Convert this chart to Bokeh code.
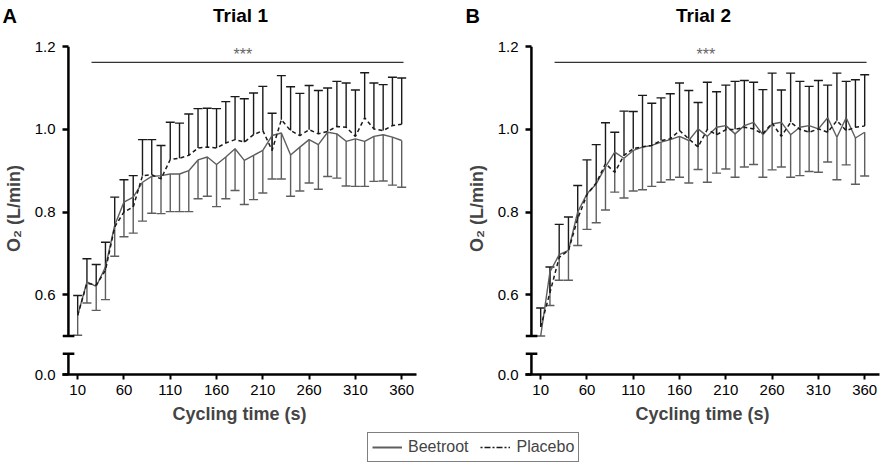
from bokeh.plotting import figure
from bokeh.models import (ColumnDataSource, FixedTicker, Whisker, TeeHead, Legend,
                          LegendItem, Range1d, NumeralTickFormatter)
from bokeh.layouts import column, row
from bokeh.embed import file_html
from bokeh.resources import INLINE
from bokeh.core.properties import value

# ---------------- data ----------------
time_s = [10, 20, 30, 40, 50, 60, 70, 80, 90, 100, 110, 120, 130, 140, 150, 160, 170, 180,
          190, 200, 210, 220, 230, 240, 250, 260, 270, 280, 290, 300, 310, 320, 330, 340, 350, 360]

# Trial 1
t1_beet_mean = [0.550, 0.631, 0.620, 0.667, 0.768, 0.824, 0.836, 0.872, 0.886, 0.888, 0.892, 0.892,
                0.900, 0.926, 0.933, 0.915, 0.933, 0.953, 0.925, 0.937, 0.949, 0.985, 0.991, 0.938,
                0.957, 0.975, 0.963, 0.993, 0.989, 0.971, 0.977, 0.971, 0.983, 0.987, 0.981, 0.973]
t1_beet_low = [0.502, 0.580, 0.562, 0.588, 0.693, 0.740, 0.749, 0.778, 0.797, 0.796, 0.801, 0.801,
               0.801, 0.832, 0.838, 0.813, 0.832, 0.852, 0.818, 0.830, 0.846, 0.880, 0.880, 0.838,
               0.851, 0.870, 0.855, 0.886, 0.882, 0.863, 0.862, 0.862, 0.874, 0.875, 0.865, 0.860]
t1_plac_mean = [0.550, 0.628, 0.623, 0.659, 0.764, 0.800, 0.812, 0.888, 0.890, 0.880, 0.927, 0.930,
                0.937, 0.955, 0.957, 0.955, 0.967, 0.975, 0.969, 0.987, 0.997, 0.949, 1.023, 0.997,
                0.985, 0.999, 0.989, 0.995, 1.007, 1.005, 0.983, 1.028, 1.001, 0.997, 1.009, 1.012]
t1_plac_up = [0.598, 0.687, 0.673, 0.727, 0.836, 0.878, 0.888, 0.975, 0.975, 0.961, 1.017, 1.015,
              1.037, 1.050, 1.051, 1.050, 1.067, 1.079, 1.074, 1.088, 1.104, 1.039, 1.130, 1.103,
              1.087, 1.106, 1.094, 1.100, 1.116, 1.112, 1.095, 1.137, 1.112, 1.108, 1.126, 1.124]

# Trial 2
t2_beet_mean = [0.500, 0.655, 0.697, 0.707, 0.800, 0.844, 0.868, 0.909, 0.945, 0.930, 0.949, 0.957,
                0.961, 0.969, 0.975, 0.983, 0.973, 1.001, 0.983, 1.005, 1.009, 0.989, 1.009, 1.017,
                0.987, 1.013, 1.017, 0.987, 1.005, 1.009, 1.001, 1.028, 0.981, 1.028, 0.979, 0.993]
t2_beet_low = [0.500, 0.574, 0.635, 0.635, 0.719, 0.758, 0.774, 0.805, 0.848, 0.834, 0.851, 0.854,
               0.862, 0.872, 0.878, 0.884, 0.870, 0.903, 0.872, 0.894, 0.904, 0.884, 0.909, 0.915,
               0.884, 0.902, 0.909, 0.884, 0.888, 0.898, 0.896, 0.921, 0.878, 0.914, 0.867, 0.887]
t2_plac_mean = [0.522, 0.605, 0.690, 0.707, 0.784, 0.842, 0.870, 0.917, 0.896, 0.937, 0.953, 0.958,
                0.961, 0.973, 0.977, 0.997, 0.977, 0.957, 1.000, 0.987, 0.999, 1.000, 1.005, 1.001,
                0.989, 1.015, 0.983, 1.017, 1.000, 0.993, 1.001, 0.993, 1.021, 0.997, 1.005, 1.008]
t2_plac_up = [0.568, 0.667, 0.770, 0.788, 0.864, 0.926, 0.963, 1.016, 0.993, 1.044, 1.043, 1.082,
              1.063, 1.076, 1.086, 1.112, 1.094, 1.065, 1.114, 1.091, 1.107, 1.116, 1.118, 1.114,
              1.096, 1.136, 1.095, 1.136, 1.116, 1.104, 1.118, 1.107, 1.136, 1.116, 1.120, 1.132]

x_ticks = [10, 60, 110, 160, 210, 260, 310, 360]
y_ticks = [0.6, 0.8, 1.0, 1.2]
zero_pos = 0.407          # where the "0.0" tick sits on the broken axis
break_low_top = 0.457     # top of the short axis stub above 0.0
break_high_bottom = 0.5   # bottom of the main axis segment
sig_start, sig_end, sig_level, sig_text = 25, 362, 1.162, "***"
series_names = ["Beetroot", "Placebo"]
panel_letters = ["A", "B"]
panel_titles = ["Trial 1", "Trial 2"]

FONT = "Liberation Sans"
GRAY = "#5e5e5e"
DARK = "#1a1a1a"
HEAD_H = 30
W_A, W_B = 463, 417

# ---------------- header (panel letters + titles) ----------------
head = figure(width=W_A + W_B, height=HEAD_H, x_range=Range1d(0, W_A + W_B),
              y_range=Range1d(0, HEAD_H), x_axis_type=None, y_axis_type=None,
              output_backend="svg", toolbar_location=None, min_border=0)
head.grid.visible = False
head.outline_line_color = None
head_y = [HEAD_H / 2, HEAD_H / 2]
head.text([2, W_A + 2], head_y, text=panel_letters, text_font=value(FONT),
          text_font_size="20px", text_font_style="bold", text_color="black",
          text_align="left", text_baseline="middle")
head.text([240, W_A + 240], head_y, text=panel_titles, text_font=value(FONT),
          text_font_size="19px", text_font_style="bold", text_color="black",
          text_align="center", text_baseline="middle")


def make_panel(bm, bl, pm, pu, width, right_border):
    p = figure(width=width, height=432 - HEAD_H, x_range=Range1d(-6.4, 376),
               y_range=Range1d(zero_pos, 1.21), output_backend="svg", toolbar_location=None,
               min_border_left=60, min_border_right=right_border, min_border_top=42 - HEAD_H,
               min_border_bottom=58)
    p.grid.visible = False
    p.outline_line_color = None

    # x axis
    xa = p.xaxis[0]
    xa.ticker = FixedTicker(ticks=x_ticks, minor_ticks=[])
    xa.axis_line_width = 2.5
    xa.axis_line_color = "black"
    xa.major_tick_line_width = 2
    xa.major_tick_out = 5
    xa.major_tick_in = 0
    xa.major_label_text_font = FONT
    xa.major_label_text_font_size = "15px"
    xa.major_label_text_color = "black"
    xa.major_label_standoff = 5
    xa.axis_label = "Cycling time (s)"
    xa.axis_label_text_font = FONT
    xa.axis_label_text_font_size = "18px"
    xa.axis_label_text_font_style = "bold"
    xa.axis_label_standoff = 6

    # y axis (line drawn separately for the break)
    ya = p.yaxis[0]
    ya.ticker = FixedTicker(ticks=[zero_pos] + y_ticks, minor_ticks=[])
    ya.formatter = NumeralTickFormatter(format="0.0")
    ya.major_label_overrides = {zero_pos: "0.0"}
    ya.axis_line_color = None
    ya.major_tick_line_width = 2.5
    ya.major_tick_in = 6
    ya.major_tick_out = 0
    ya.major_label_text_font = FONT
    ya.major_label_text_font_size = "15px"
    ya.major_label_text_color = "black"
    ya.major_label_standoff = 7
    ya.axis_label = "O\u2082 (L/min)"
    ya.axis_label_text_font = FONT
    ya.axis_label_text_font_size = "18px"
    ya.axis_label_text_font_style = "bold"
    ya.axis_label_standoff = 8

    axis_src = ColumnDataSource(dict(
        x0=[0, 0, -6.4, -6.4], x1=[0, 0, 6.4, 6.4],
        y0=[break_high_bottom, zero_pos, break_high_bottom, break_low_top],
        y1=[1.2, break_low_top, break_high_bottom, break_low_top]))
    p.segment("x0", "y0", "x1", "y1", source=axis_src, line_color="black", line_width=2.5)

    src = ColumnDataSource(dict(t=time_s, bm=bm, bl=bl, pm=pm, pu=pu))
    p.add_layout(Whisker(source=src, base="t", upper="bm", lower="bl", dimension="height",
                         line_color=GRAY, line_width=1.4, upper_head=None,
                         lower_head=TeeHead(size=9, line_color=GRAY, line_width=1.4)))
    p.add_layout(Whisker(source=src, base="t", upper="pu", lower="pm", dimension="height",
                         line_color=DARK, line_width=1.4, lower_head=None,
                         upper_head=TeeHead(size=9, line_color=DARK, line_width=1.4)))
    p.line("t", "bm", source=src, line_color=GRAY, line_width=1.4)
    p.line("t", "pm", source=src, line_color=DARK, line_width=1.5, line_dash="4 3")

    p.line([sig_start, sig_end], [sig_level, sig_level], line_color="#333333", line_width=1.3)
    p.text([(sig_start + sig_end) / 2 - 5], [sig_level + 0.02], text=[sig_text],
           text_font=value(FONT), text_font_size="16px", text_color="#666666",
           text_align="center", text_baseline="middle")
    return p


pa = make_panel(t1_beet_mean, t1_beet_low, t1_plac_mean, t1_plac_up, W_A, 47)
pb = make_panel(t2_beet_mean, t2_beet_low, t2_plac_mean, t2_plac_up, W_B, 1)

leg = figure(width=880, height=36, x_range=Range1d(0, 1), y_range=Range1d(0, 1),
             x_axis_type=None, y_axis_type=None, output_backend="svg", toolbar_location=None,
             min_border=0)
leg.grid.visible = False
leg.outline_line_color = None
nan = float("nan")
r1 = leg.line([nan, nan], [nan, nan], line_color=GRAY, line_width=2)
r2 = leg.line([nan, nan], [nan, nan], line_color=DARK, line_width=1.5, line_dash="2 2 6 2")
legend = Legend(items=[LegendItem(label=series_names[0], renderers=[r1]),
                       LegendItem(label=series_names[1], renderers=[r2])],
                orientation="horizontal", location=(367, 6), padding=4, spacing=12,
                glyph_width=30, glyph_height=20, label_standoff=6, label_height=20,
                label_text_font=FONT, label_text_font_size="16px",
                border_line_color="black", border_line_width=1, margin=0)
leg.add_layout(legend)

layout = column(head, row(pa, pb), leg)
open("out.html", "w").write(file_html(layout, INLINE))
